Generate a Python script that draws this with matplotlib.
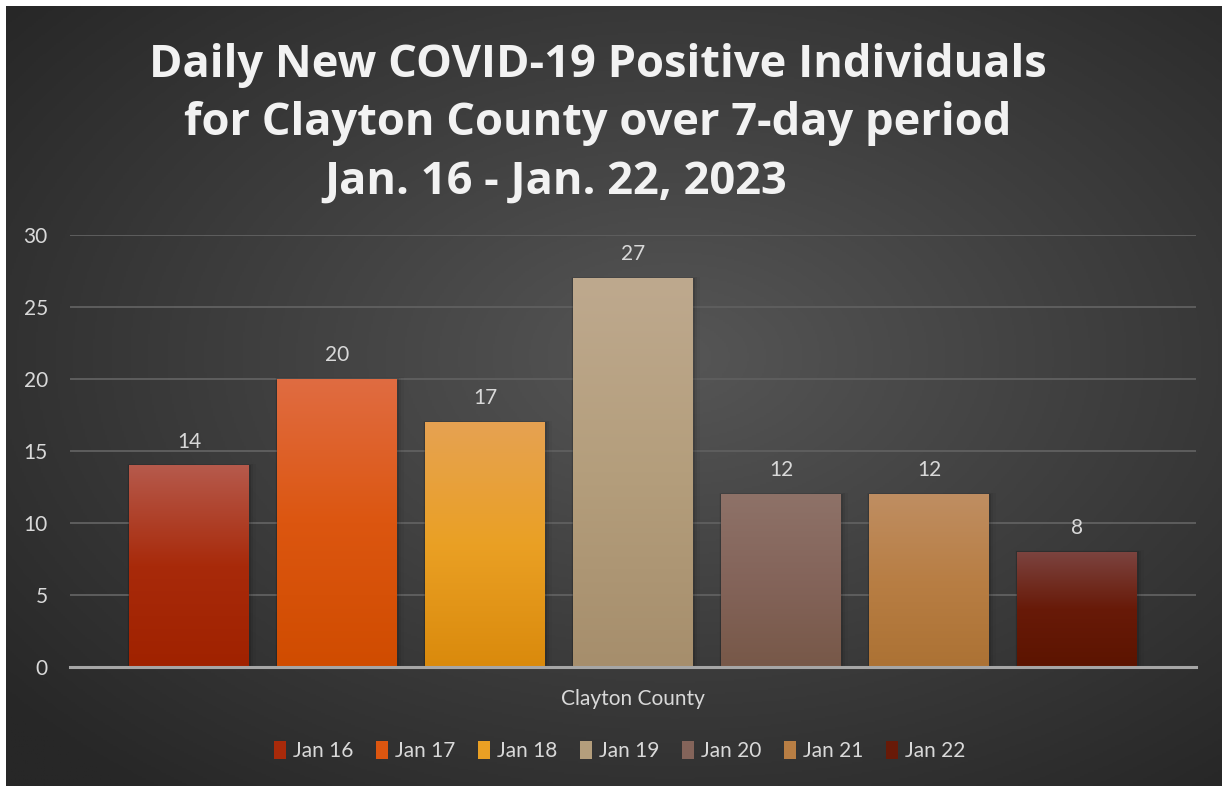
import numpy as np
import matplotlib
matplotlib.use("Agg")
import matplotlib.pyplot as plt
from matplotlib.colors import LinearSegmentedColormap
from matplotlib.patches import Patch, Rectangle

plt.rcParams["font.family"] = ["Lato", "DejaVu Sans"]

# 数据
county = "Clayton County"
dates = ["Jan 16", "Jan 17", "Jan 18", "Jan 19", "Jan 20", "Jan 21", "Jan 22"]
cases = [14, 20, 17, 27, 12, 12, 8]

# 每根柱子的渐变色：顶部、中部、底部
top_colors = ["#b65a4c", "#e06c42", "#e6a252", "#bea98e", "#8e7268", "#bf8e62", "#7c4440"]
mid_colors = ["#a82a0a", "#dc5610", "#eaa024", "#b49e7c", "#84645a", "#b87e44", "#681a08"]
bot_colors = ["#a02200", "#d04c00", "#da8a0c", "#a68e6c", "#775848", "#ac7234", "#5c1400"]

title_lines = ["Daily New COVID-19 Positive Individuals",
               "for Clayton County over 7-day period",
               "Jan. 16 - Jan. 22, 2023"]

W, H = 1222, 786
fig = plt.figure(figsize=(W / 100, H / 100), dpi=100, facecolor="white")

# 背景：径向渐变
bg = fig.add_axes([6 / W, 0, 1 - 6 / W, 1 - 6 / H])
bg.set_axis_off()
yy, xx = np.mgrid[0:1:400j, 0:1:600j]
r = np.sqrt(((xx - 0.55) / 0.75) ** 2 + ((yy - 0.45) / 0.75) ** 2)
bg_cmap = LinearSegmentedColormap.from_list("bg", ["#565656", "#3e3e3e", "#272727"])
bg.imshow(r, cmap=bg_cmap, vmin=0, vmax=0.95, aspect="auto", extent=[0, 1, 0, 1], origin="upper")
bg.set_xlim(0, 1)
bg.set_ylim(0, 1)

# 主图
ax = fig.add_axes([70 / W, (H - 667) / H, 1126 / W, 432 / H])
ax.patch.set_alpha(0)
ax.set_xlim(-0.5, 0.5)
ax.set_ylim(0, 30)

n = len(dates)
step = 148 / 1126
width = 120 / 1126
offsets = [(i - (n - 1) / 2) * step for i in range(n)]

bars = ax.bar(offsets, cases, width=width, color=mid_colors, zorder=3)

for i, b in enumerate(bars):
    x0, w, h = b.get_x(), b.get_width(), b.get_height()
    # 柔和阴影
    for k, a in enumerate([0.10, 0.06, 0.03]):
        d = 0.0015 * (k + 1)
        ax.add_patch(Rectangle((x0 - d * 0.3, 0), w + d * 1.6, h + d * 25, color="black",
                               alpha=a, zorder=2.5, linewidth=0))
    cm = LinearSegmentedColormap.from_list("b%d" % i, [top_colors[i], mid_colors[i], bot_colors[i]])
    grad = np.linspace(0, 1, 256).reshape(-1, 1)
    im = ax.imshow(grad, cmap=cm, aspect="auto", extent=[x0, x0 + w, 0, h],
                   origin="upper", zorder=3.5)
    im.set_clip_path(b)
    ax.annotate(str(cases[i]), (b.get_x() + w / 2, h), xytext=(0, 10),
                textcoords="offset points", ha="center", va="bottom",
                color="#d9d9d9", fontsize=15)

ax.set_xlim(-0.5, 0.5)
ax.set_ylim(0, 30)
ax.set_yticks(range(0, 31, 5))
ax.yaxis.grid(True, color="#5e5e5e", linewidth=1.4, zorder=1)
ax.set_axisbelow(True)
ax.set_xticks([0])
ax.set_xticklabels([county])
ax.tick_params(axis="both", length=0, colors="#d9d9d9", labelsize=15)
ax.tick_params(axis="y", pad=16)
ax.tick_params(axis="x", pad=16)
for s in ["top", "right", "left"]:
    ax.spines[s].set_visible(False)
ax.spines["bottom"].set_color("#a6a6a6")
ax.spines["bottom"].set_linewidth(2.2)
ax.spines["bottom"].set_zorder(5)

# 标题
tfont = dict(ha="center", va="center", color="#f2f2f2", fontsize=32.6,
             fontweight="bold", family=["Open Sans", "DejaVu Sans"])
fig.text(598 / W, 1 - 65 / H, title_lines[0], **tfont)
fig.text(598 / W, 1 - 124 / H, title_lines[1], **tfont)
fig.text(556 / W, 1 - 182 / H, title_lines[2], **tfont)

# 图例
handles = [Patch(facecolor=mid_colors[i], label=dates[i]) for i in range(n)]
leg = fig.legend(handles=handles, loc="center", bbox_to_anchor=(620 / W, 1 - 751 / H),
                 ncol=n, frameon=False, fontsize=15, handlelength=0.55, handleheight=0.95,
                 handletextpad=0.35, columnspacing=1.1)
for t in leg.get_texts():
    t.set_color("#d9d9d9")

fig.savefig("out.png", dpi=100, facecolor="white")
